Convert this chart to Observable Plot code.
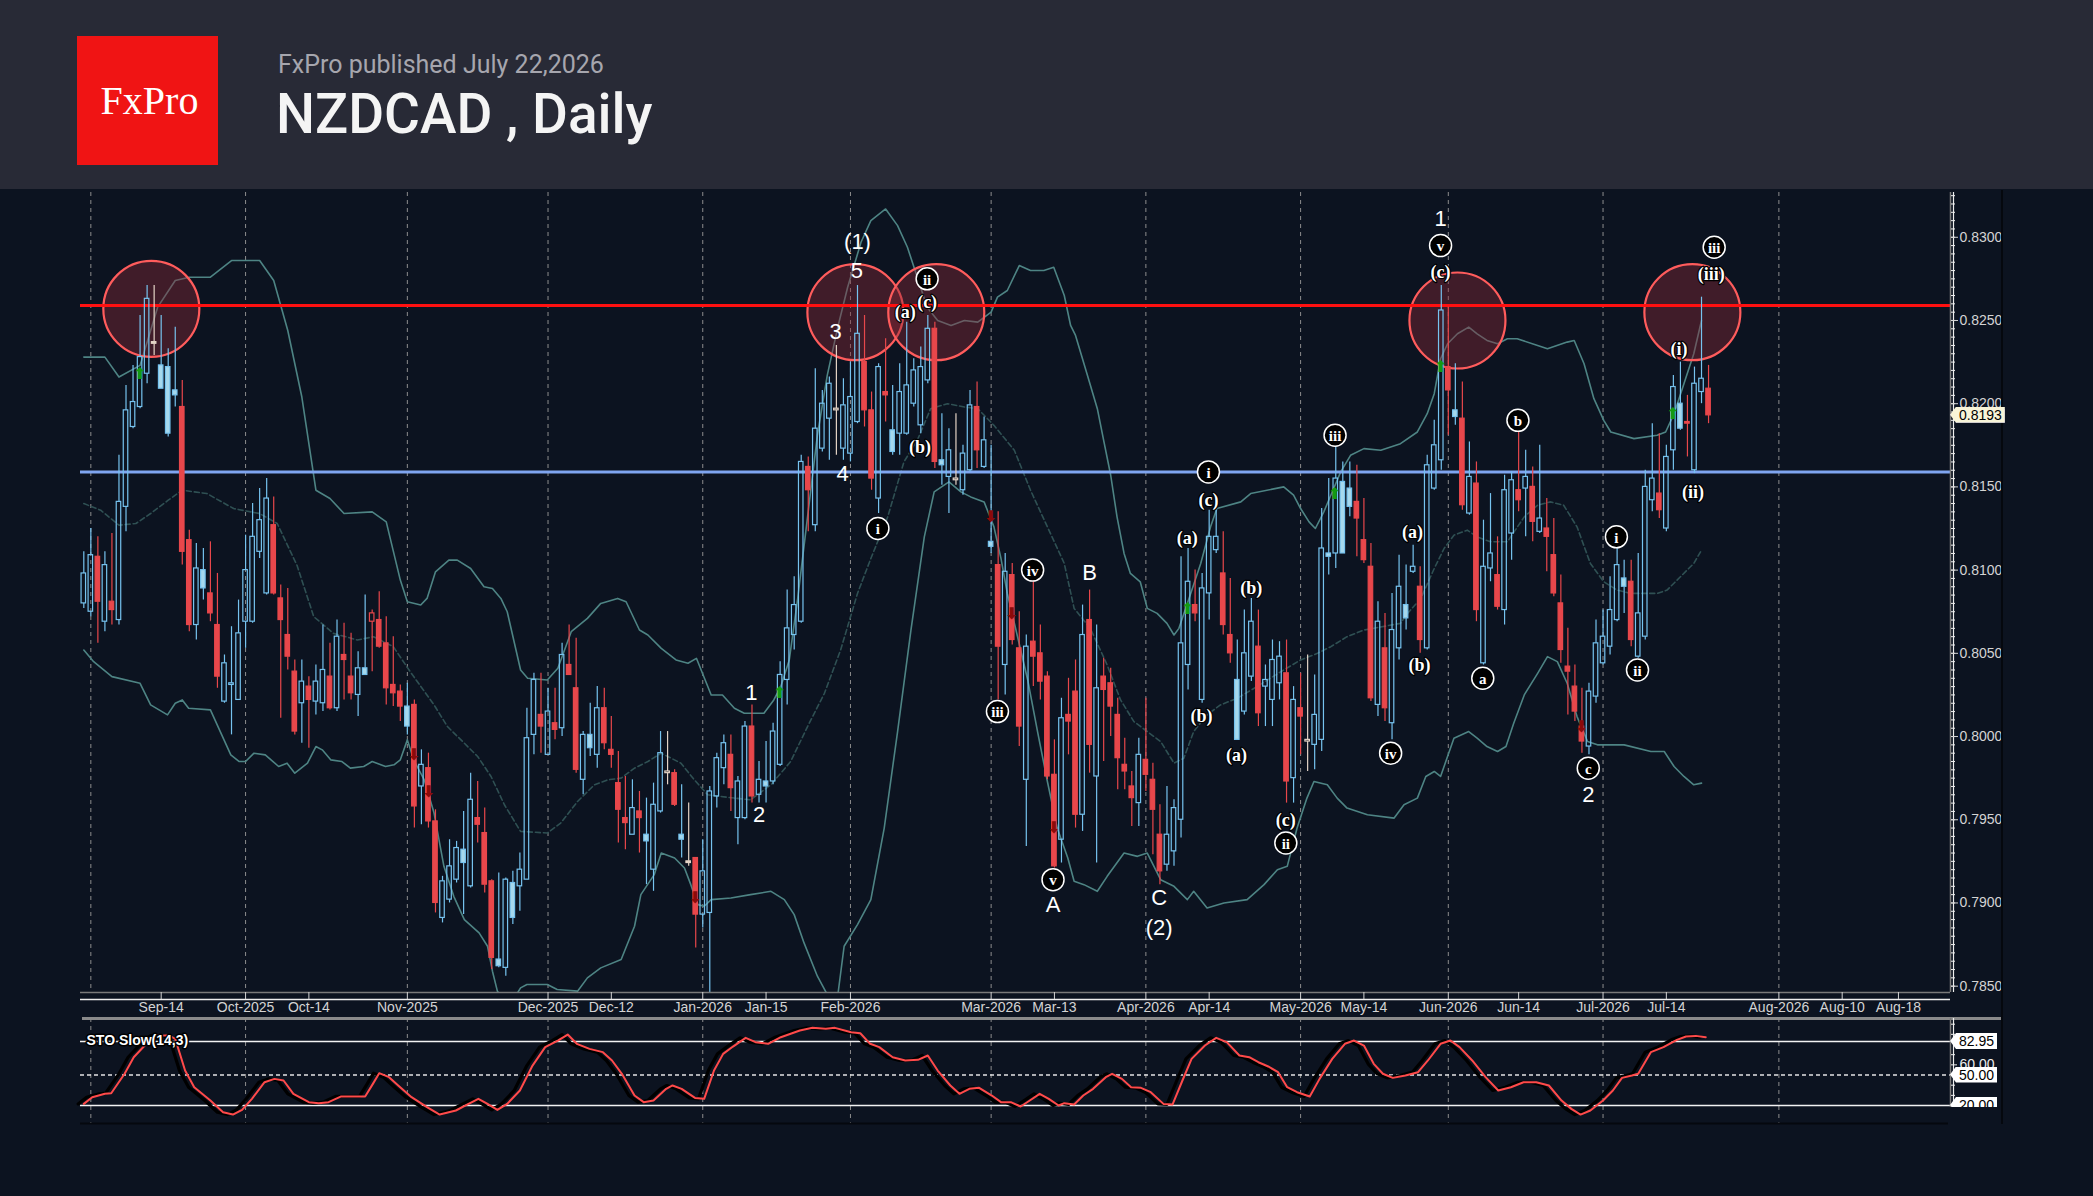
<!DOCTYPE html>
<html><head><meta charset="utf-8">
<script src="https://cdn.jsdelivr.net/npm/d3@7"></script>
<script src="https://cdn.jsdelivr.net/npm/@observablehq/plot@0.6"></script>
<style>
html,body{margin:0;padding:0;background:#0c1320;width:2093px;height:1196px;overflow:hidden;}
#header{position:absolute;left:0;top:0;width:2093px;height:189px;background:#282a36;}
#logo{position:absolute;left:77px;top:36px;width:141px;height:129px;background:#f01414;color:#fff;font-family:"Liberation Serif","Times New Roman",serif;font-size:40px;display:flex;align-items:center;justify-content:center;padding-left:4px;box-sizing:border-box;}
#sub{position:absolute;left:278px;top:52px;font-family:Roboto,sans-serif;font-size:25px;color:#a6a6ae;line-height:1;white-space:nowrap;}
#title{position:absolute;left:276px;top:87px;font-family:Roboto,sans-serif;font-weight:500;font-size:55px;color:#f4f4f4;line-height:1;white-space:nowrap;}
#price{position:absolute;left:0;top:190px;}
#sto{position:absolute;left:0;top:1018px;}
#sep{position:absolute;left:82px;top:1017px;width:1920px;height:3px;background:#8a8a8a;}
#frameR{position:absolute;left:2001px;top:190px;width:2px;height:934px;background:#05080e;}
.tag{position:absolute;height:16px;line-height:16px;font-family:"Liberation Sans Narrow","Arial Narrow","Liberation Sans",sans-serif;font-size:14px;color:#000;padding:0 3px 0 9px;clip-path:polygon(6px 0,100% 0,100% 100%,6px 100%,0 50%);}
#cover{position:absolute;left:1948px;top:1107px;width:53px;height:20px;background:#0c1320;}
</style></head>
<body>
<div id="header"></div>
<div id="logo">FxPro</div>
<div id="sub">FxPro published July 22,2026</div>
<div id="title">NZDCAD , Daily</div>
<div id="price"></div>
<div id="sep"></div>
<div id="sto"></div>
<div id="frameR"></div>
<script>
// ---------- DATA ----------
// bar index 0 = 2025-08-29, trading days only; index 231 = 2026-07-22
const open = [
.8080,.8075,.8108,.8069,.8081,.8070,.8138,.8186,.8198,.8218,
.8237,.8223,.8222,.8208,.8198,.8118,.8067,.8100,.8086,.8067,
.8021,.8031,.8022,.8069,.8069,.8111,.8086,.8127,.8083,.8061,
.8039,.8020,.8030,.8021,.8020,.8036,.8017,.8049,.8036,.8025,
.8041,.8069,.8070,.8056,.8031,.8027,.8018,.8019,.7970,.7981,
.7949,.7891,.7902,.7914,.7932,.7910,.7951,.7942,.7913,.7866,
.7861,.7912,.7910,.7914,.8001,.8013,.7989,.8008,.8005,.8043,
.8029,.7974,.8001,.7989,.8017,.7992,.7972,.7951,.7941,.7955,
.7941,.7920,.7955,.7978,.7978,.7941,.7925,.7927,.7893,.7894,
.7964,.7981,.7989,.7951,.7951,.8006,.7965,.7973,.7973,.7983,
.8034,.8061,.8069,.8162,.8127,.8173,.8191,.8196,.8173,.8170,
.8189,.8225,.8196,.8143,.8207,.8184,.8182,.8182,.8200,.8187,
.8214,.8245,.8166,.8156,.8154,.8148,.8160,.8198,.8162,.8117,
.8103,.8043,.8097,.8053,.7974,.8057,.8050,.8036,.7977,.7938,
.8013,.8027,.7953,.8070,.7976,.8036,.8032,.8013,.7983,.7970,
.7960,.7986,.7974,.7941,.7923,.7931,.7950,.8043,.8079,.8022,
.8086,.8112,.8098,.8061,.8034,.8015,.8036,.8054,.8030,.8022,
.8032,.8038,.7975,.8017,.7997,.7995,.7998,.8110,.8110,.8153,
.8149,.8141,.8118,.8102,.8019,.8053,.8008,.8053,.8079,.8099,
.8090,.8053,.8149,.8166,.8222,.8196,.8191,.8134,.8152,.8044,
.8101,.8097,.8076,.8122,.8148,.8149,.8150,.8123,.8125,.8109,
.8080,.8042,.8030,.8006,.7994,.8024,.8044,.8054,.8070,.8095,
.8093,.8048,.8060,.8142,.8146,.8125,.8172,.8200,.8189,.8160,
.8207,.8209];
const high = [
.8111,.8125,.8120,.8111,.8122,.8169,.8211,.8223,.8253,.8271,
.8271,.8253,.8233,.8246,.8214,.8124,.8116,.8113,.8117,.8098,
.8049,.8066,.8082,.8121,.8140,.8149,.8155,.8144,.8091,.8089,
.8046,.8046,.8036,.8043,.8067,.8056,.8070,.8068,.8062,.8051,
.8085,.8076,.8087,.8072,.8060,.8031,.8032,.8022,.7992,.7990,
.7956,.7916,.7938,.7937,.7955,.7978,.7973,.7957,.7914,.7918,
.7915,.7919,.7930,.8017,.8038,.8038,.8029,.8029,.8056,.8067,
.8059,.8003,.8020,.8030,.8029,.8012,.7991,.7976,.7974,.7967,
.7963,.7972,.8003,.8003,.7980,.7971,.7960,.7927,.7938,.7970,
.7990,.8001,.8001,.7976,.8009,.8019,.7985,.7997,.8008,.8045,
.8088,.8096,.8169,.8168,.8221,.8208,.8216,.8235,.8215,.8225,
.8271,.8253,.8207,.8224,.8239,.8211,.8224,.8249,.8227,.8234,
.8253,.8249,.8194,.8185,.8194,.8175,.8208,.8213,.8192,.8175,
.8135,.8110,.8104,.8075,.8061,.8093,.8067,.8039,.7998,.8023,
.8035,.8046,.8079,.8088,.8067,.8047,.8041,.8023,.7999,.7979,
.7999,.8023,.7984,.7959,.7970,.7962,.8108,.8113,.8100,.8098,
.8136,.8136,.8123,.8095,.8058,.8076,.8083,.8076,.8043,.8058,
.8057,.8058,.8030,.8038,.8049,.8037,.8137,.8155,.8175,.8165,
.8165,.8163,.8143,.8116,.8081,.8074,.8086,.8109,.8103,.8115,
.8102,.8169,.8190,.8271,.8258,.8224,.8213,.8177,.8165,.8130,
.8146,.8120,.8157,.8159,.8184,.8172,.8162,.8175,.8143,.8131,
.8097,.8065,.8043,.8029,.8032,.8070,.8076,.8096,.8113,.8106,
.8106,.8110,.8160,.8188,.8182,.8175,.8217,.8225,.8205,.8222,
.8264,.8223];
const low = [
.8077,.8072,.8056,.8063,.8067,.8067,.8123,.8185,.8197,.8212,
.8229,.8209,.8180,.8198,.8103,.8063,.8058,.8082,.8069,.8029,
.8020,.8001,.8022,.8053,.8068,.8107,.8085,.8085,.8011,.8040,
.8001,.7996,.7993,.8013,.8015,.8016,.8015,.8022,.8022,.8012,
.8037,.8039,.8053,.8019,.8018,.8009,.8001,.7945,.7947,.7945,
.7894,.7888,.7900,.7912,.7893,.7909,.7936,.7906,.7860,.7861,
.7856,.7887,.7895,.7914,.7989,.7990,.7989,.7998,.8000,.8037,
.7978,.7965,.7988,.7981,.7992,.7981,.7936,.7932,.7941,.7930,
.7911,.7907,.7954,.7971,.7958,.7927,.7922,.7873,.7885,.7842,
.7957,.7971,.7955,.7935,.7950,.7960,.7960,.7960,.7971,.7982,
.8019,.8052,.8068,.8123,.8123,.8171,.8166,.8169,.8166,.8165,
.8188,.8186,.8148,.8134,.8189,.8169,.8169,.8181,.8198,.8182,
.8212,.8161,.8151,.8134,.8151,.8145,.8159,.8161,.8161,.8110,
.8022,.8025,.8055,.7994,.7934,.8030,.8022,.7974,.7921,.7924,
.7989,.7945,.7943,.7978,.7924,.7985,.8000,.7968,.7968,.7946,
.7946,.7967,.7929,.7911,.7919,.7922,.7939,.8028,.8069,.8020,
.8070,.8110,.8061,.8044,.7998,.8013,.8033,.8006,.8006,.8006,
.8022,.7960,.7960,.7989,.7979,.7980,.7991,.8097,.8101,.8110,
.8132,.8108,.8104,.8021,.8012,.8009,.7998,.8046,.8064,.8098,
.8050,.8052,.8148,.8160,.8181,.8187,.8136,.8133,.8069,.8043,
.8093,.8076,.8067,.8106,.8135,.8120,.8117,.8122,.8099,.8084,
.8044,.8013,.8009,.7990,.7989,.8020,.8043,.8049,.8069,.8074,
.8054,.8047,.8058,.8135,.8131,.8123,.8160,.8184,.8168,.8158,
.8200,.8188];
const close = [
.8098,.8109,.8081,.8103,.8076,.8141,.8196,.8201,.8228,.8263,
.8236,.8209,.8182,.8205,.8111,.8067,.8101,.8089,.8074,.8036,
.8044,.8032,.8062,.8100,.8120,.8130,.8143,.8086,.8070,.8048,
.8003,.8033,.8022,.8033,.8040,.8017,.8060,.8046,.8026,.8041,
.8037,.8074,.8054,.8029,.8026,.8018,.8006,.7958,.7983,.7949,
.7900,.7913,.7922,.7933,.7924,.7962,.7947,.7911,.7867,.7862,
.7914,.7891,.7920,.7999,.8034,.8006,.8015,.8004,.8049,.8037,
.7980,.8001,.7993,.8017,.7996,.7989,.7956,.7948,.7957,.7951,
.7937,.7959,.7990,.7979,.7959,.7938,.7924,.7893,.7919,.7967,
.7987,.7996,.7969,.7973,.8006,.7964,.7974,.7970,.8003,.8037,
.8065,.8079,.8165,.8148,.8185,.8200,.8212,.8197,.8199,.8204,
.8242,.8196,.8155,.8222,.8205,.8171,.8207,.8211,.8220,.8222,
.8245,.8165,.8163,.8172,.8155,.8170,.8199,.8172,.8178,.8114,
.8054,.8099,.8058,.8006,.8054,.8048,.8033,.7976,.7922,.8011,
.8009,.7953,.8061,.7995,.8029,.8028,.8018,.7987,.7979,.7963,
.7989,.7977,.7956,.7919,.7941,.7957,.8056,.8093,.8074,.8089,
.8120,.8120,.8067,.8050,.7998,.8050,.8069,.8014,.8034,.8046,
.8048,.7973,.8022,.8012,.7998,.8013,.8113,.8108,.8155,.8110,
.8138,.8131,.8106,.8023,.8069,.8017,.8064,.8090,.8071,.8102,
.8058,.8163,.8175,.8256,.8208,.8192,.8139,.8156,.8076,.8102,
.8110,.8078,.8148,.8154,.8142,.8156,.8129,.8131,.8120,.8086,
.8052,.8039,.8015,.7997,.8027,.8056,.8060,.8076,.8103,.8090,
.8058,.8074,.8150,.8155,.8136,.8168,.8210,.8185,.8188,.8212,
.8215,.8193];
// candle tone as drawn: b = blue, r = red, w = pale doji
const candleTone =
 "bbrbrbbbbb"+"wbbbrrbbrr"+"bbbbbbbrrr"+"rbrbbrbrrb"+"brrrrrbrbr"+
 "rbbbbbrrrb"+"bbbbbrbrbr"+"rbbbrrrrbr"+"bbbwrbwrbb"+"bbrbbrbbbb"+
 "bbbrbbbwbb"+"brrbrbbbbb"+"brbbwbbrbb"+"rbrrbrrrrb"+"rrbrbrrrrr"+
 "brrrbbbbrb"+"bbrrbbbrbb"+"brbrwbbbbb"+"brrrbrbbbb"+"rbbbrbrbrb"+
 "brbbrbrbrr"+"rrrrbbbbbb"+"rbbbrbbbrb"+"br";

// Bollinger bands [bar index, price]
const upperBand = [[0,.8228],[3,.8228],[5,.8216],[8,.8223],[10.5,.8258],[13,.8274],[15,.8276],[18,.8276],[21,.8286],[25,.8286],[27,.8274],[29,.8244],[31,.8204],[33,.8148],[35,.8143],[37,.8134],[41,.8135],[43,.8129],[45,.8094],[46,.8081],[47.9,.8079],[48.8,.8083],[50,.8099],[51.9,.8106],[53.1,.8106],[55,.8101],[56.9,.8090],[58.1,.8089],[59.3,.8083],[60.2,.8075],[62.1,.8040],[63.1,.8035],[65.9,.8034],[67.4,.8041],[69.3,.8063],[71.6,.8071],[73.5,.8080],[75.9,.8083],[77.1,.8081],[79,.8064],[80.2,.8061],[82.1,.8053],[84.2,.8046],[85.9,.8044],[87.1,.8047],[89.2,.8025],[90.8,.8025],[92.5,.8017],[93.9,.8014],[96.7,.8014],[98.1,.8022],[99.1,.8030],[100.3,.8046],[101.5,.8083],[102.9,.8132],[104.3,.8181],[105.7,.8217],[107.2,.8246],[108.6,.8270],[110.5,.8297],[111.9,.8310],[114,.8317],[115.7,.8307],[117.1,.8294],[118.5,.8276],[119.9,.8258],[121.4,.8250],[123.3,.8247],[125.2,.8250],[127.1,.8249],[129,.8255],[129.9,.8264],[131.3,.8268],[133,.8283],[134.6,.8280],[136.5,.8280],[137.9,.8282],[139.4,.8265],[140.3,.8247],[141,.8241],[142.7,.8217],[144.1,.8197],[145,.8178],[146,.8157],[146.9,.8132],[147.9,.8110],[148.8,.8098],[150.2,.8093],[151.2,.8077],[152.6,.8074],[154,.8068],[155,.8061],[155.7,.8065],[156.9,.8080],[158.8,.8104],[160.2,.8126],[161.1,.8137],[164.5,.8141],[165.9,.8146],[170.6,.8150],[172,.8145],[173,.8137],[174.2,.8129],[175.1,.8125],[176.3,.8135],[177.3,.8145],[178.7,.8159],[180.1,.8169],[182,.8173],[184.4,.8172],[187.2,.8176],[189.6,.8183],[191,.8194],[192,.8206],[192.9,.8227],[193.9,.8236],[195.3,.8242],[196.9,.8246],[198.1,.8242],[199.5,.8238],[201,.8236],[202.4,.8239],[203.8,.8239],[206.7,.8235],[208.1,.8233],[210.9,.8237],[211.9,.8238],[213.3,.8224],[214.7,.8203],[216.1,.8190],[217.1,.8183],[220.4,.8179],[223.7,.8181],[224.9,.8183],[226.1,.8194],[227.5,.8212],[228.9,.8230],[230,.8250]];
const middleBand = [[0,.8140],[2.4,.8136],[5,.8127],[7.4,.8128],[9.5,.8134],[12,.8142],[14,.8148],[17.5,.8146],[21.3,.8137],[25,.8134],[27.5,.8128],[30.3,.8103],[32.7,.8072],[35.5,.8062],[38.9,.8058],[41.2,.8060],[44,.8054],[46.4,.8039],[49.8,.8019],[51.7,.8006],[54.1,.7996],[56,.7988],[57.9,.7976],[59.8,.7959],[62.1,.7943],[65.9,.7942],[67.8,.7948],[70.2,.7961],[72.6,.7971],[74.5,.7974],[76.4,.7975],[78.3,.7981],[80.2,.7985],[82.1,.7990],[84.9,.7984],[86.8,.7974],[88.7,.7965],[92.5,.7963],[94.8,.7962],[97.7,.7971],[100.5,.7985],[102.9,.8006],[105.3,.8026],[107.6,.8052],[110,.8086],[111.9,.8107],[114.3,.8132],[116.6,.8165],[118.5,.8178],[120.4,.8197],[122.8,.8200],[125.2,.8198],[127.1,.8197],[129.4,.8187],[132.3,.8172],[134.6,.8148],[137,.8126],[139.4,.8104],[140.8,.8077],[143.1,.8065],[145.5,.8043],[147.4,.8022],[149.3,.8009],[151.2,.8003],[153.1,.7997],[155,.7984],[156.4,.7987],[157.8,.8003],[159.7,.8013],[161.6,.8019],[164,.8023],[166.4,.8029],[168.3,.8034],[170.6,.8040],[173,.8046],[175.4,.8050],[177.3,.8054],[179.6,.8060],[182,.8064],[187.2,.8068],[188.2,.8074],[190.1,.8083],[192,.8101],[193.4,.8113],[194.8,.8121],[196.7,.8124],[198.1,.8120],[200,.8117],[202.4,.8117],[204.8,.8132],[206.7,.8139],[208.5,.8141],[210.4,.8139],[212.3,.8126],[214.2,.8104],[216.1,.8093],[218,.8088],[219.9,.8086],[223.7,.8086],[225.1,.8088],[227,.8096],[228.9,.8104],[230,.8112]];
const lowerBand = [[0,.8052],[1.4,.8045],[4,.8036],[8,.8032],[9.5,.8019],[11.9,.8013],[13,.8020],[14,.8022],[14.9,.8017],[18,.8016],[20.9,.7989],[22.1,.7985],[23,.7985],[24.2,.7990],[25.8,.7989],[27.7,.7982],[28.9,.7984],[30,.7978],[31.8,.7984],[33,.7994],[33.9,.7992],[35.1,.7986],[36.7,.7985],[37.9,.7981],[39.8,.7982],[41,.7985],[42.9,.7982],[44.1,.7983],[45,.7986],[46,.7998],[46.9,.7986],[48.4,.7974],[49.8,.7954],[51.2,.7922],[52.6,.7904],[54.1,.7890],[56.2,.7882],[57.4,.7874],[58.1,.7859],[58.8,.7847],[60.5,.7838],[62.1,.7849],[63,.7851],[65.9,.7851],[67.3,.7848],[70.2,.7847],[71.6,.7855],[73.5,.7861],[76.4,.7866],[78.3,.7886],[79.2,.7905],[81.1,.7917],[82.1,.7930],[84,.7927],[85.4,.7921],[86.3,.7911],[87.3,.7899],[88.2,.7898],[89.2,.7902],[92,.7903],[94.8,.7905],[97.7,.7907],[99.6,.7902],[101,.7893],[102.4,.7876],[104.3,.7856],[105.7,.7845],[107,.7838],[108.1,.7874],[110,.7887],[111.9,.7902],[113.8,.7945],[115.7,.8003],[117.6,.8064],[119.5,.8120],[120.9,.8147],[123,.8153],[124.7,.8147],[126.1,.8144],[128,.8141],[129.4,.8126],[130.4,.8107],[131.3,.8086],[132.7,.8061],[134.2,.8034],[135.6,.8003],[137,.7973],[138.4,.7945],[139.9,.7927],[140.8,.7913],[142.2,.7911],[144.1,.7907],[145.5,.7916],[147.9,.7930],[149.8,.7928],[151.2,.7930],[153.1,.7914],[155,.7910],[156.9,.7902],[157.8,.7907],[159.7,.7897],[162.1,.7900],[165.4,.7902],[167.8,.7911],[169.7,.7920],[171.1,.7922],[172.5,.7945],[173.9,.7963],[174.9,.7973],[176.8,.7971],[178.2,.7963],[179.6,.7957],[182.5,.7953],[186.3,.7951],[187.7,.7959],[189.6,.7963],[190.8,.7976],[192,.7979],[192.9,.7976],[194.8,.7999],[196.9,.8003],[198.1,.7999],[199.5,.7994],[201,.7991],[202.2,.7994],[203.3,.8008],[204.8,.8025],[206.7,.8038],[208.1,.8048],[209.5,.8045],[210.9,.8032],[212.3,.8012],[213.8,.7997],[215.2,.7995],[219,.7995],[222.8,.7991],[224.7,.7991],[226.1,.7982],[227.5,.7976],[228.9,.7971],[230,.7972]];

// Slow stochastic (14,3) [bar index, value]
const stoSlow = [[0,21.6],[1.2,28.2],[3,31.5],[3.9,32.1],[5.8,51.2],[7.1,67.5],[8.9,80.7],[10.3,88.9],[12.1,88.9],[13,85.6],[14.4,54.4],[15.7,38],[18,24.9],[19.8,13.4],[21.2,11.1],[22.5,15.7],[23.9,26.6],[25.7,42.9],[27.1,46.2],[28.4,44.6],[29.8,31.5],[32,23.3],[33.4,22.3],[34.8,23.3],[36.6,28.9],[38.4,28.9],[40,28.9],[41.1,41.3],[42,51.8],[43.4,47.9],[44.7,39.7],[46.6,28.2],[48.8,18.4],[50.6,11.1],[52.9,15.1],[54.7,21.6],[56.1,26.6],[57.4,21.6],[58.8,15.7],[60.2,21.6],[62,34.8],[63.8,59.3],[65.6,77.4],[67.4,83.9],[68.8,89.8],[70.1,80.7],[71.9,75.7],[73.8,72.5],[75.1,64.3],[76.5,51.2],[78.3,29.8],[79.6,23.3],[81,24.9],[82.8,36.4],[83.7,39.7],[85,36.4],[86.9,27.5],[88.2,26.6],[89.6,54.4],[90.9,70.8],[92.3,78],[94.1,86.6],[95.5,82.3],[97.3,80.7],[99.1,87.2],[101.8,93.8],[103.6,96.4],[105.5,95.4],[106.8,96.4],[109.1,92.1],[110.4,91.1],[111.8,80.7],[113.1,77.4],[115,67.5],[116.8,64.3],[118.6,64.9],[120,69.2],[121.4,54.4],[123.2,39.7],[124.5,31.5],[125.9,36.4],[127.3,37.4],[129.1,29.8],[130.4,23.3],[131.8,23.3],[133.2,19],[134.5,24.9],[135.9,31.5],[137.2,26.6],[138.6,20],[139.4,22.3],[140.8,21],[142.1,29.8],[143.5,36.4],[145.3,47.9],[146.2,51.2],[147.6,46.2],[148.9,38],[150.3,37.4],[151.7,33.1],[153.5,21.6],[154.8,21],[156.2,44.6],[157.5,65.9],[159.4,79],[161,86.6],[162.5,82.3],[164.3,69.2],[165.7,67.5],[167,62.6],[168.4,58.4],[169.8,52.8],[171.1,38],[172.5,33.1],[174.3,28.9],[175.7,46.2],[177.5,65.9],[179.3,80.7],[180.6,83.9],[182,79],[183.4,61],[184.7,51.2],[186.1,47.2],[187.9,49.5],[189.7,52.8],[191.1,64.3],[192.9,80.7],[194.3,83.9],[195.6,77.4],[197.4,64.3],[199.3,47.9],[201.1,34.8],[202.9,38],[204.7,42.9],[206.5,42.9],[208.3,39.7],[210.1,24.9],[211.5,16.7],[212.8,11.1],[214.2,15.1],[216,24.9],[217.4,34.8],[218.7,47.2],[220.1,49.5],[221,51.2],[222.8,72.5],[224.6,77.4],[226.5,84.6],[227.8,87.9],[229.2,88.5],[230.6,87.2]];
const stoLevels = [82.95, 20];
const stoMid = [50];
const stoCurrent = 82.95;

// horizontal levels
const resistance = [0.8259];
const support = [0.8159];
const lastPrice = 0.8193;

// x axis: month starts, tick bars and labels
const monthStarts = [1, 23, 46, 66, 88, 109, 129, 151, 173, 194, 216, 241];
const tickBars = [11, 23, 32, 46, 66, 75, 88, 97, 109, 129, 138, 151, 160, 173, 182, 194, 204, 216, 225, 241, 250, 258];
const tickLabels = ["Sep-14","Oct-2025","Oct-14","Nov-2025","Dec-2025","Dec-12","Jan-2026","Jan-15","Feb-2026","Mar-2026","Mar-13","Apr-2026","Apr-14","May-2026","May-14","Jun-2026","Jun-14","Jul-2026","Jul-14","Aug-2026","Aug-10","Aug-18"];
const priceTicks = [0.785, 0.79, 0.795, 0.80, 0.805, 0.81, 0.815, 0.82, 0.825, 0.83];

// annotations
const zoneCircles = [{i:9.6,p:.8257},{i:109.7,p:.8255},{i:121.2,p:.8255},{i:195.3,p:.8250},{i:228.7,p:.8255}];
const waveDigits = [
 {t:"1",i:94.9,p:.8026},{t:"2",i:96.0,p:.7953},{t:"(1)",i:110.0,p:.8297},{t:"5",i:109.9,p:.8280},
 {t:"3",i:106.9,p:.8243},{t:"4",i:107.9,p:.8158},{t:"A",i:137.8,p:.7899},{t:"B",i:143.0,p:.8098},
 {t:"C",i:152.9,p:.7903},{t:"(2)",i:152.9,p:.7885},{t:"1",i:192.9,p:.8311},{t:"2",i:213.9,p:.7965}];
const waveParens = [
 {t:"(a)",i:116.8,p:.8255},{t:"(c)",i:119.9,p:.8261},{t:"(b)",i:118.9,p:.8174},
 {t:"(a)",i:156.9,p:.8119},{t:"(c)",i:159.9,p:.8142},{t:"(b)",i:158.9,p:.8012},
 {t:"(b)",i:166.0,p:.8089},{t:"(a)",i:163.9,p:.7989},{t:"(c)",i:170.9,p:.7950},
 {t:"(c)",i:192.9,p:.8279},{t:"(a)",i:188.9,p:.8123},{t:"(b)",i:189.9,p:.8043},
 {t:"(i)",i:226.8,p:.8233},{t:"(ii)",i:228.8,p:.8147},{t:"(iii)",i:231.4,p:.8278}];
const waveCircled = [
 {t:"i",i:112.9,p:.8125},{t:"ii",i:119.9,p:.8275},{t:"iii",i:129.9,p:.8015},{t:"iv",i:134.9,p:.8100},
 {t:"v",i:137.8,p:.7914},{t:"i",i:159.9,p:.8159},{t:"ii",i:170.9,p:.7936},{t:"iii",i:177.9,p:.8181},
 {t:"iv",i:185.8,p:.7990},{t:"v",i:192.9,p:.8295},{t:"b",i:203.9,p:.8190},{t:"a",i:198.9,p:.8035},
 {t:"c",i:213.9,p:.7981},{t:"i",i:217.9,p:.8120},{t:"ii",i:220.9,p:.8040},{t:"iii",i:231.8,p:.8294}];
const buySignals = [{i:7.96,p:.8218},{i:98.9,p:.8026},{i:156.9,p:.8077},{i:177.8,p:.8146},{i:192.9,p:.8222},{i:225.9,p:.8194}];
const sellSignals = [{i:46.9,p:.7989},{i:49.0,p:.7967},{i:86.9,p:.7903},{i:128.9,p:.8132},{i:131.9,p:.8074},{i:137.9,p:.7945},{i:212.9,p:.8006}];

// ---------- CHART ----------
const BLUE = "#76c3ef", BLUEFILL = "#a6d8ec", RED = "#e8474b", PALE = "#e4d4c6";
const NARROW = "'Liberation Sans Narrow','Arial Narrow','Liberation Sans',sans-serif";
const xDomain = [-0.47, 265.4];
const yDomain = [0.78462, 0.83269];

const candles = open.map((o, i) => ({i, o, h: high[i], l: low[i], c: close[i], k: candleTone[i]}));
const tone = d => d.k === "r" ? RED : d.k === "w" ? PALE : BLUE;
const toneFill = d => d.k === "r" ? RED : d.k === "w" ? PALE : BLUEFILL;
const bodyTop = d => Math.max(d.o, d.c), bodyBot = d => Math.min(d.o, d.c);
const minorTicks = d3.range(0, 96).map(k => +(0.785 + k * 0.0005).toFixed(4));

const priceChart = Plot.plot({
  width: 2093, height: 828,
  marginLeft: 80, marginRight: 143, marginTop: 2, marginBottom: 26,
  x: {domain: xDomain, axis: null, label: null},
  y: {domain: yDomain, axis: null, label: null},
  style: {background: "transparent", color: "#d4d4d4", fontFamily: NARROW},
  marks: [
    Plot.ruleX(monthStarts, {stroke: "#8d8d8d", strokeWidth: 1, strokeDasharray: "4,4"}),
    Plot.line(upperBand, {x: d => d[0], y: d => d[1], stroke: "#4e8484", strokeWidth: 1.6, clip: true}),
    Plot.line(middleBand, {x: d => d[0], y: d => d[1], stroke: "#2f5053", strokeWidth: 1.6, strokeDasharray: "5,3", clip: true}),
    Plot.line(lowerBand, {x: d => d[0], y: d => d[1], stroke: "#4e8484", strokeWidth: 1.6, clip: true}),
    Plot.dot(zoneCircles, {x: "i", y: "p", r: 48, fill: "#8a2836", fillOpacity: 0.42, stroke: "#ff5c5c", strokeWidth: 2.2}),
    Plot.ruleY(resistance, {stroke: "#ff1010", strokeWidth: 3}),
    Plot.ruleY(support, {stroke: "#7fa5f0", strokeWidth: 3}),
    Plot.ruleX(candles, {x: "i", y1: bodyTop, y2: "h", stroke: tone, strokeWidth: 1.2, clip: true}),
    Plot.ruleX(candles, {x: "i", y1: "l", y2: bodyBot, stroke: tone, strokeWidth: 1.2, clip: true}),
    Plot.rect(candles, {x1: d => d.i - 0.32, x2: d => d.i + 0.32, y1: bodyBot, y2: bodyTop,
      fill: toneFill, fillOpacity: d => d.c > d.o ? 0 : 1, stroke: tone, strokeWidth: 1.2, clip: true}),
    Plot.text(buySignals, {x: "i", y: "p", text: () => "⬆", fill: "#139a13", fontSize: 16, fontWeight: "bold", fontFamily: "DejaVu Sans"}),
    Plot.text(sellSignals, {x: "i", y: "p", text: () => "⬇", fill: "#8c0a0a", fontSize: 16, fontWeight: "bold", fontFamily: "DejaVu Sans"}),
    Plot.text(waveDigits, {x: "i", y: "p", text: "t", fill: "#ffffff", fontSize: 22, fontFamily: "'Liberation Sans',Arial,sans-serif"}),
    Plot.text(waveParens, {x: "i", y: "p", text: "t", fill: "#ffffff", stroke: "#000", strokeWidth: 2.5, paintOrder: "stroke", fontSize: 18, fontWeight: "bold", fontFamily: "'Liberation Serif','Times New Roman',serif"}),
    Plot.dot(waveCircled, {x: "i", y: "p", r: 11, fill: "#000", stroke: "#ffffff", strokeWidth: 1.5}),
    Plot.text(waveCircled, {x: "i", y: "p", text: "t", fill: "#ffffff", fontSize: 15, fontWeight: "bold", fontFamily: "'Liberation Serif','Times New Roman',serif", dy: 1}),
    Plot.ruleY([yDomain[0]], {stroke: "#7a7a7a", strokeWidth: 1.5}),
    Plot.ruleY([yDomain[0]], {dy: 7, stroke: "#eeeeee", strokeWidth: 1.5}),
    Plot.ruleX([xDomain[1]], {stroke: "#7a7a7a", strokeWidth: 1.5}),
    Plot.ruleX([xDomain[1]], {dx: 3, stroke: "#eeeeee", strokeWidth: 1.2}),
    Plot.axisY({anchor: "right", label: null, ticks: minorTicks, tickSize: 4, tickFormat: () => "", color: "#eeeeee"}),
    Plot.axisY({anchor: "right", label: null, ticks: priceTicks, tickSize: 7, tickPadding: 2, tickFormat: d3.format(".4f"), color: "#d4d4d4", fontSize: 14}),
    Plot.axisX({anchor: "bottom", label: null, ticks: tickBars, tickSize: 7, tickPadding: 3,
      tickFormat: d => tickLabels[tickBars.indexOf(d)], color: "#d4d4d4", fontSize: 14})
  ]
});
document.getElementById("price").appendChild(priceChart);

const stoChart = Plot.plot({
  width: 2093, height: 110,
  marginLeft: 80, marginRight: 143, marginTop: 0, marginBottom: 5,
  x: {domain: xDomain, axis: null, label: null},
  y: {domain: [2.3, 105.6], axis: null, label: null},
  style: {background: "transparent", color: "#d4d4d4", fontFamily: NARROW},
  marks: [
    Plot.ruleX(monthStarts, {stroke: "#8d8d8d", strokeWidth: 1, strokeDasharray: "4,4"}),
    Plot.ruleY(stoLevels, {stroke: "#f2f2f2", strokeWidth: 1.6}),
    Plot.ruleY(stoMid, {stroke: "#e4e4e4", strokeWidth: 1.6, strokeDasharray: "4,3"}),
    Plot.line(stoSlow, {x: d => d[0] - 0.8, y: d => d[1], stroke: "#000000", strokeWidth: 3.2}),
    Plot.line(stoSlow, {x: d => d[0], y: d => d[1], stroke: "#ff4a4a", strokeWidth: 2}),
    Plot.ruleY([2.3], {stroke: "#05080e", strokeWidth: 2}),
    Plot.ruleX([xDomain[1]], {stroke: "#7a7a7a", strokeWidth: 1.5}),
    Plot.ruleX([xDomain[1]], {dx: 3, stroke: "#eeeeee", strokeWidth: 1.2}),
    Plot.axisY({anchor: "right", label: null, ticks: [10, 30, 40, 70, 90, 100], tickSize: 4, tickFormat: () => "", color: "#eeeeee"}),
    Plot.axisY({anchor: "right", label: null, ticks: [60], tickSize: 6, tickPadding: 3, tickFormat: d3.format(".2f"), color: "#eeeeee", fontSize: 14}),
    Plot.text(["STO Slow(14,3)"], {frameAnchor: "top-left", text: d => d, dx: 6, dy: 17, textAnchor: "start",
      fill: "#ffffff", stroke: "#000", strokeWidth: 3, paintOrder: "stroke", fontSize: 14, fontWeight: "bold"})
  ]
});
document.getElementById("sto").appendChild(stoChart);

// value tags on the right scale, placed with the charts' own scales
function addTag(text, pageY, bg, extra) {
  const el = document.createElement("div");
  el.className = "tag";
  el.textContent = text;
  el.style.left = "1950px";
  el.style.top = (pageY - 8) + "px";
  el.style.background = bg;
  if (extra) Object.assign(el.style, extra);
  document.body.appendChild(el);
}
const py = priceChart.scale("y"), sy = stoChart.scale("y");
addTag(d3.format(".4f")(lastPrice), 190 + py.apply(lastPrice), "#f8f4d8", {boxShadow: "0 2px 0 #6f6ad0"});
addTag(d3.format(".2f")(stoCurrent), 1018 + sy.apply(stoCurrent), "#ffffff");
addTag(d3.format(".2f")(stoMid[0]), 1018 + sy.apply(stoMid[0]), "#ffffff");
addTag(d3.format(".2f")(stoLevels[1]), 1018 + sy.apply(stoLevels[1]), "#ffffff");
const cover = document.createElement("div");
cover.id = "cover";
document.body.appendChild(cover);
</script>
</body></html>
